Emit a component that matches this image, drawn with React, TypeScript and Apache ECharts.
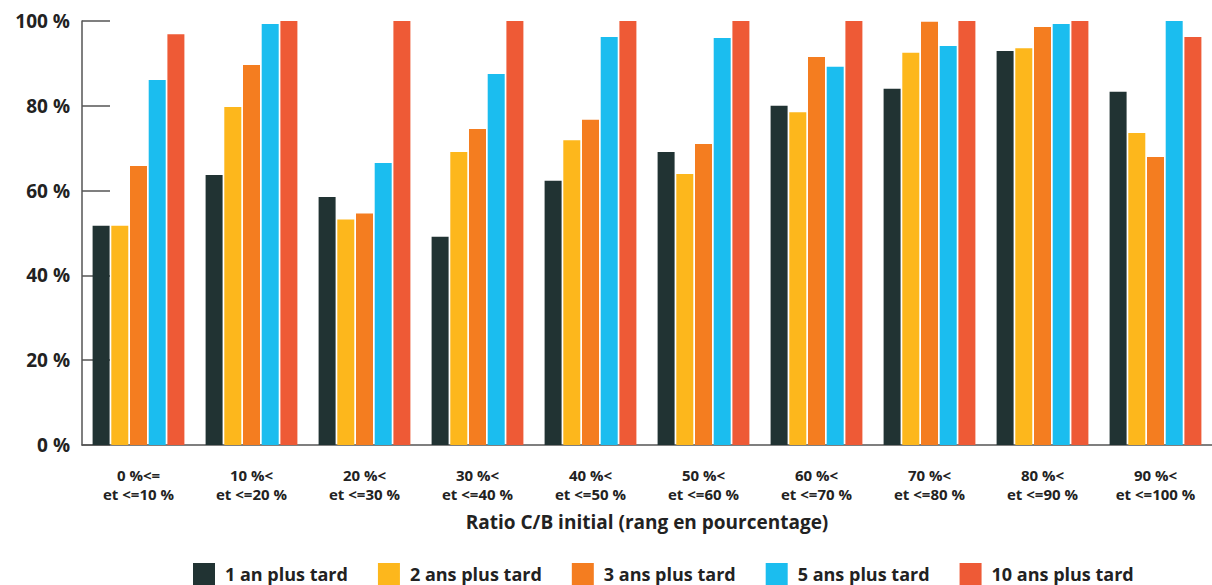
import React, { useEffect, useRef } from "react";
import * as echarts from "echarts";

const categories = [
  "0 %<=\net <=10 %",
  "10 %<\net <=20 %",
  "20 %<\net <=30 %",
  "30 %<\net <=40 %",
  "40 %<\net <=50 %",
  "50 %<\net <=60 %",
  "60 %<\net <=70 %",
  "70 %<\net <=80 %",
  "80 %<\net <=90 %",
  "90 %<\net <=100 %",
];

const seriesNames = [
  "1 an plus tard",
  "2 ans plus tard",
  "3 ans plus tard",
  "5 ans plus tard",
  "10 ans plus tard",
];

const oneYear = [51.7, 63.7, 58.5, 49.1, 62.3, 69.1, 80.0, 84.0, 92.9, 83.3];
const twoYears = [51.7, 79.7, 53.2, 69.1, 71.9, 63.9, 78.5, 92.5, 93.6, 73.6];
const threeYears = [65.8, 89.6, 54.6, 74.5, 76.7, 71.0, 91.5, 99.8, 98.6, 67.9];
const fiveYears = [86.1, 99.3, 66.5, 87.5, 96.2, 96.0, 89.2, 94.1, 99.3, 100];
const tenYears = [96.9, 100, 100, 100, 100, 100, 100, 100, 100, 96.2];

const colors = ["#213333", "#FDB71C", "#F47D20", "#1BBDEF", "#EE5A36"];

const FONT = "'Open Sans', 'Noto Sans', sans-serif";
const TEXT = "#222222";

export default function App() {
  const ref = useRef<HTMLDivElement>(null);

  useEffect(() => {
    if (!ref.current) return;
    const chart = echarts.init(ref.current, undefined, { renderer: "svg" });
    const data = [oneYear, twoYears, threeYears, fiveYears, tenYears];
    chart.setOption({
      animation: false,
      color: colors,
      textStyle: { fontFamily: FONT },
      grid: { left: 82, top: 21, bottom: 140, right: -10, containLabel: false },
      legend: {
        data: seriesNames,
        top: 558,
        left: 188,
        itemWidth: 22,
        itemHeight: 22,
        itemGap: 30,
        icon: "rect",
        textStyle: { fontFamily: FONT, fontSize: 18, fontWeight: "bold", color: TEXT, padding: [0, 0, 0, 5] },
      },
      xAxis: {
        type: "category",
        data: categories,
        name: "Ratio C/B initial (rang en pourcentage)",
        nameLocation: "middle",
        nameGap: 67,
        nameTextStyle: { fontFamily: FONT, fontSize: 19, fontWeight: "bold", color: TEXT },
        axisLine: { lineStyle: { color: "#555555", width: 1.5 } },
        axisTick: { inside: true, length: 10, lineStyle: { color: "#555555", width: 1.5 } },
        axisLabel: {
          margin: 20,
          fontFamily: FONT,
          fontSize: 15,
          fontWeight: "bold",
          color: TEXT,
          lineHeight: 19,
          interval: 0,
        },
      },
      yAxis: {
        type: "value",
        min: 0,
        max: 100,
        interval: 20,
        axisLine: { show: true, lineStyle: { color: "#555555", width: 1.5 } },
        axisTick: { show: true, inside: true, length: 28, lineStyle: { color: "#555555", width: 1.5 } },
        splitLine: { show: false },
        axisLabel: {
          margin: 12,
          fontFamily: FONT,
          fontSize: 19,
          fontWeight: "bold",
          color: TEXT,
          formatter: "{value} %",
        },
      },
      series: seriesNames.map((name, i) => ({
        name,
        type: "bar",
        data: data[i],
        barWidth: 17,
        barGap: "10%",
        itemStyle: { color: colors[i] },
      })),
    });
    return () => chart.dispose();
  }, []);

  return (
    <div
      ref={ref}
      style={{ position: "absolute", left: 0, top: 0, width: 1212, height: 585 }}
    />
  );
}
